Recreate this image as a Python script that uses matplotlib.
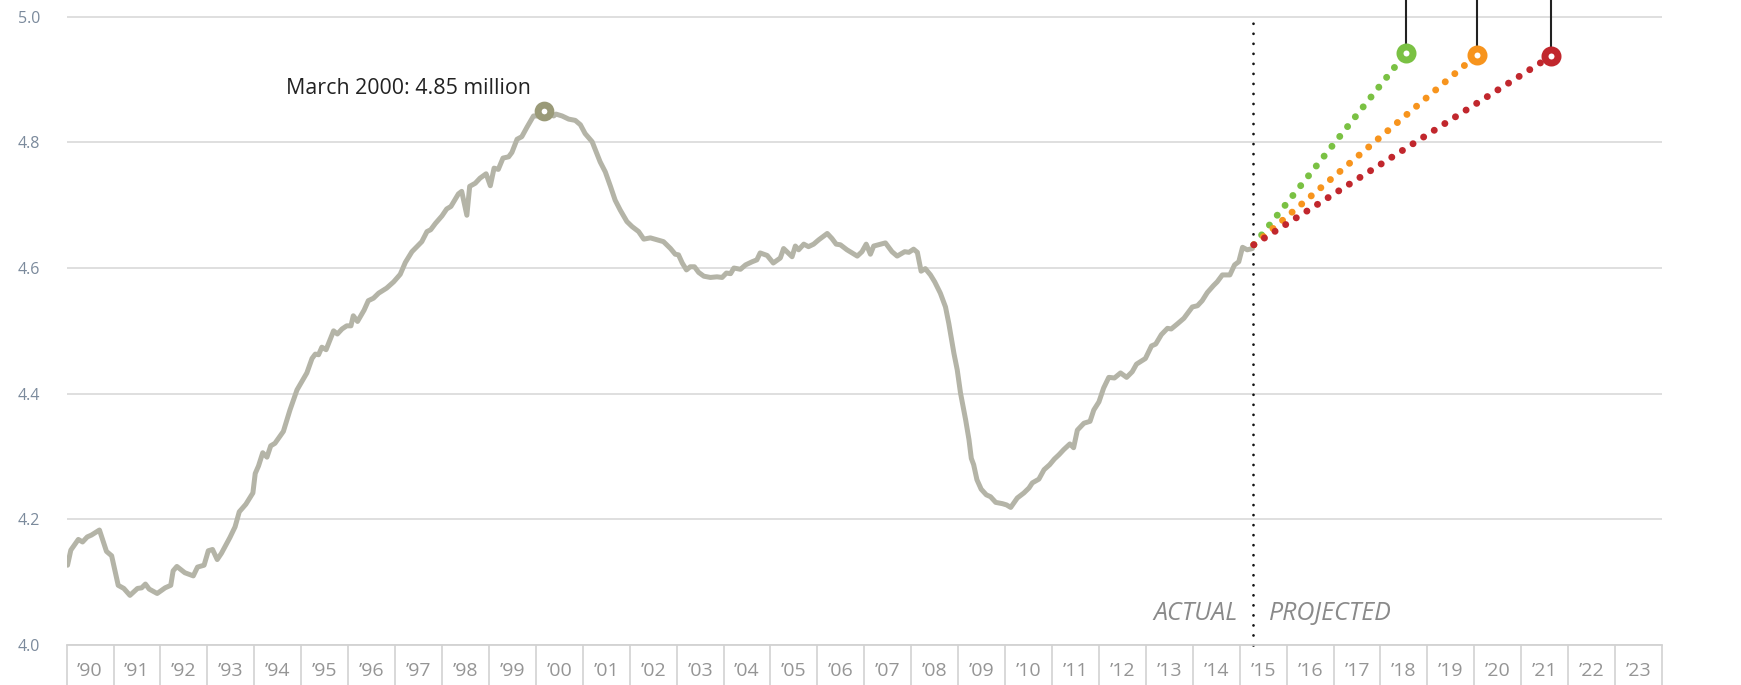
import numpy as np
import matplotlib
matplotlib.use("Agg")
from matplotlib import pyplot as plt

plt.rcParams['font.family'] = ['Open Sans', 'DejaVu Sans']

# actual series (millions), decimal years
actual_years = [
    1990.02, 1990.09, 1990.25, 1990.34, 1990.44, 1990.53, 1990.70, 1990.85, 1990.96,
    1991.10, 1991.22, 1991.35, 1991.51, 1991.60, 1991.68, 1991.76, 1991.93,
    1992.10, 1992.22, 1992.27, 1992.35, 1992.52, 1992.70, 1992.79, 1992.93,
    1993.02, 1993.11, 1993.21, 1993.30, 1993.48, 1993.59, 1993.68, 1993.82, 1993.97,
    1994.02, 1994.09, 1994.18, 1994.27, 1994.35, 1994.44, 1994.62, 1994.76, 1994.91,
    1995.01, 1995.12, 1995.23, 1995.30, 1995.37, 1995.44, 1995.53, 1995.69, 1995.77, 1995.87, 1995.97,
    1996.06, 1996.11, 1996.20, 1996.34, 1996.43, 1996.54, 1996.65, 1996.82, 1996.97,
    1997.11, 1997.22, 1997.36, 1997.57, 1997.68, 1997.76, 1997.86,
    1998.00, 1998.10, 1998.19, 1998.35, 1998.42, 1998.53, 1998.59, 1998.71, 1998.81, 1998.94,
    1999.03, 1999.11, 1999.20, 1999.30, 1999.42, 1999.49, 1999.60, 1999.70, 1999.81, 1999.95,
    2000.08, 2000.17, 2000.38, 2000.43, 2000.56, 2000.70, 2000.84, 2000.95,
    2001.05, 2001.20, 2001.27, 2001.37, 2001.48, 2001.59, 2001.69, 2001.80, 2001.94,
    2002.05, 2002.19, 2002.30, 2002.44, 2002.58, 2002.72, 2002.87, 2002.97,
    2003.04, 2003.12, 2003.21, 2003.29, 2003.38, 2003.47, 2003.58, 2003.72, 2003.86, 2003.97,
    2004.06, 2004.15, 2004.22, 2004.36, 2004.47, 2004.61, 2004.71, 2004.78, 2004.93,
    2005.06, 2005.21, 2005.28, 2005.46, 2005.53, 2005.60, 2005.71, 2005.81, 2005.92,
    2006.03, 2006.21, 2006.31, 2006.40, 2006.49, 2006.63, 2006.85, 2006.95,
    2007.04, 2007.13, 2007.20, 2007.45, 2007.59, 2007.70, 2007.86, 2007.95,
    2008.05, 2008.13, 2008.21, 2008.30, 2008.41, 2008.50, 2008.62, 2008.73, 2008.80, 2008.91, 2008.98,
    2009.05, 2009.16, 2009.23, 2009.28, 2009.33, 2009.40, 2009.49, 2009.60, 2009.69, 2009.80, 2009.94,
    2010.03, 2010.12, 2010.26, 2010.40, 2010.51, 2010.58, 2010.72, 2010.83, 2010.95,
    2011.05, 2011.15, 2011.25, 2011.38, 2011.46, 2011.54, 2011.68, 2011.81, 2011.89,
    2012.00, 2012.10, 2012.21, 2012.33, 2012.46, 2012.59, 2012.71, 2012.80, 2012.99,
    2013.12, 2013.21, 2013.33, 2013.46, 2013.54, 2013.67, 2013.81, 2013.92, 2013.99,
    2014.10, 2014.20, 2014.31, 2014.44, 2014.52, 2014.63, 2014.79, 2014.89, 2014.98,
    2015.06, 2015.16, 2015.27,
]
actual_values = [
    4.127, 4.151, 4.168, 4.164, 4.172, 4.175, 4.183, 4.149, 4.142,
    4.095, 4.090, 4.079, 4.090, 4.091, 4.097, 4.089, 4.082,
    4.091, 4.095, 4.118, 4.125, 4.115, 4.110, 4.124, 4.127,
    4.150, 4.152, 4.136, 4.146, 4.171, 4.188, 4.212, 4.224, 4.242,
    4.273, 4.285, 4.306, 4.299, 4.317, 4.321, 4.340, 4.374, 4.406,
    4.419, 4.433, 4.456, 4.463, 4.462, 4.474, 4.470, 4.500, 4.495, 4.503, 4.508,
    4.508, 4.524, 4.515, 4.533, 4.548, 4.552, 4.560, 4.568, 4.578,
    4.590, 4.609, 4.626, 4.642, 4.658, 4.661, 4.671,
    4.683, 4.694, 4.698, 4.718, 4.722, 4.684, 4.730, 4.735, 4.743, 4.750,
    4.731, 4.759, 4.757, 4.775, 4.777, 4.784, 4.805, 4.809, 4.824, 4.842,
    4.842, 4.850, 4.842, 4.845, 4.842, 4.837, 4.835, 4.828,
    4.814, 4.801, 4.788, 4.769, 4.753, 4.730, 4.708, 4.692, 4.674,
    4.666, 4.658, 4.646, 4.648, 4.645, 4.642, 4.631, 4.622,
    4.621, 4.608, 4.597, 4.602, 4.602, 4.593, 4.587, 4.585, 4.586, 4.585,
    4.592, 4.591, 4.600, 4.598, 4.605, 4.610, 4.613, 4.624, 4.620,
    4.608, 4.616, 4.631, 4.618, 4.635, 4.629, 4.638, 4.634, 4.638,
    4.645, 4.655, 4.647, 4.638, 4.637, 4.629, 4.619, 4.626,
    4.638, 4.622, 4.635, 4.640, 4.626, 4.619, 4.626, 4.625,
    4.630, 4.625, 4.595, 4.599, 4.589, 4.578, 4.560, 4.538, 4.512, 4.464, 4.438,
    4.401, 4.358, 4.327, 4.297, 4.287, 4.263, 4.248, 4.239, 4.236, 4.227, 4.225,
    4.223, 4.219, 4.234, 4.242, 4.250, 4.258, 4.264, 4.279, 4.287,
    4.296, 4.303, 4.311, 4.320, 4.314, 4.342, 4.353, 4.356, 4.374,
    4.387, 4.409, 4.426, 4.425, 4.433, 4.426, 4.435, 4.447, 4.456,
    4.476, 4.479, 4.494, 4.504, 4.503, 4.511, 4.520, 4.531, 4.538,
    4.540, 4.548, 4.561, 4.572, 4.578, 4.589, 4.589, 4.605, 4.610,
    4.633, 4.629, 4.631,
]

peak_year = 2000.17
peak_value = 4.85
peak_label = "March 2000: 4.85 million"

# projections: common start, three end points
proj_start_year = 2015.30
proj_start_value = 4.637
proj_end_years = [2018.55, 2020.05, 2021.63]
proj_end_values = [4.943, 4.939, 4.937]
proj_colors = ['#7ac143', '#f7941d', '#c1272d']

divider_year = 2015.29
year_ticks = list(range(1990, 2025))
year_labels = ['\u2019%02d' % (y % 100) for y in range(1990, 2024)]
y_ticks = [4.0, 4.2, 4.4, 4.6, 4.8, 5.0]

fig = plt.figure(figsize=(17.41, 6.85), dpi=100)
ax = fig.add_axes([0.03825, 0.0584, 0.9164, 0.9416])
ax.set_xlim(1990, 2024)
ax.set_ylim(4.0, 5.0266)

for s in ['top', 'right', 'left']:
    ax.spines[s].set_visible(False)
ax.spines['bottom'].set_color('#d2d2d2')
ax.spines['bottom'].set_linewidth(1.3)

# y grid + labels
ax.set_yticks(y_ticks)
ax.set_yticklabels(['%.1f' % v for v in y_ticks])
ax.tick_params(axis='y', length=0, pad=19, labelsize=11.5, labelcolor='#7b8a9c')
ax.grid(axis='y', color='#d9d9d9', linewidth=1.2)
ax.set_axisbelow(True)

# year cells under the axis
ax.set_xticks(year_ticks)
ax.set_xticklabels([])
ax.tick_params(axis='x', which='major', length=30, width=1.2, color='#d2d2d2', direction='out')
ax.set_xticks([y + 0.5 for y in range(1990, 2024)], minor=True)
ax.set_xticklabels(year_labels, minor=True)
ax.tick_params(axis='x', which='minor', length=0, pad=12.5, labelsize=14, labelcolor='#959595')

# actual line
ax.plot(actual_years, actual_values, color='#b4b4a7', linewidth=3.6,
        solid_joinstyle='round', solid_capstyle='round', zorder=3)

# divider
ax.plot([divider_year, divider_year], [4.0, 5.0], color='#111111', linewidth=2.0,
        linestyle=(0, (0.01, 3.6)), dash_capstyle='round', zorder=2, clip_on=False)
ax.text(divider_year - 0.33, 4.05, 'ACTUAL', ha='right', va='center',
        fontsize=18, style='italic', color='#8a8a8a')
ax.text(divider_year + 0.33, 4.05, 'PROJECTED', ha='left', va='center',
        fontsize=18, style='italic', color='#8a8a8a')

# projections
for ey, ev, c in zip(proj_end_years, proj_end_values, proj_colors):
    ax.plot([ey, ey], [ev, 5.0266], color='#222222', linewidth=1.5, zorder=4, clip_on=False)
    ax.plot([proj_start_year, ey], [proj_start_value, ev], color=c, linewidth=5,
            linestyle=(0, (0.01, 1.8)), dash_capstyle='round', zorder=5)
    ax.plot([ey], [ev], marker='o', ms=9.4, mew=5, mec=c, mfc='white', zorder=6, clip_on=False)

# peak
ax.plot([peak_year], [peak_value], marker='o', ms=9.2, mew=5, mec='#9a9a78',
        mfc='white', zorder=6)
ax.text(peak_year - 0.28, peak_value + 0.035, peak_label, ha='right', va='center',
        fontsize=15.4, color='#222222')

plt.savefig('out.png', dpi=100)
